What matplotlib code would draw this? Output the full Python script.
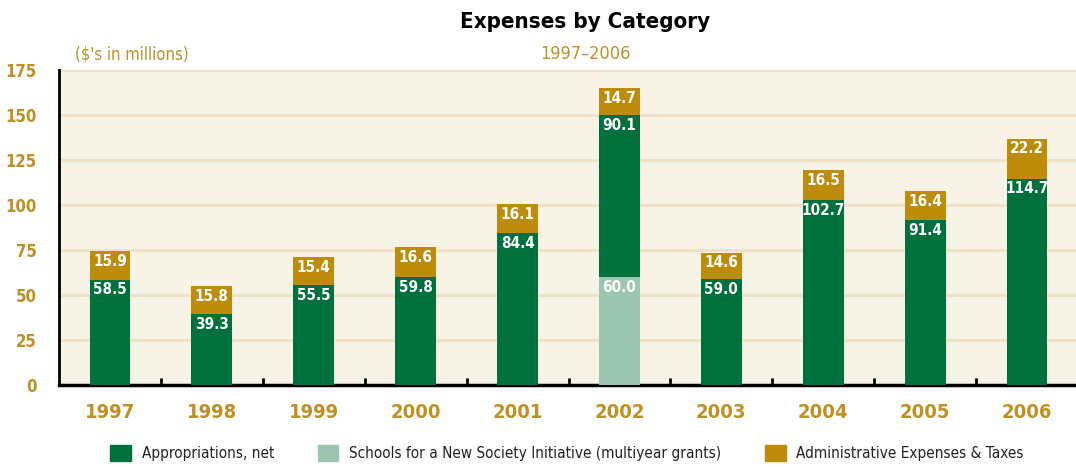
import numpy as np
import matplotlib.pyplot as plt
from matplotlib.patches import Patch

plt.rcParams['font.family'] = ['DejaVu Sans']
plt.rcParams['font.stretch'] = 'condensed'

years = ['1997', '1998', '1999', '2000', '2001', '2002', '2003', '2004', '2005', '2006']
appropriations = [58.5, 39.3, 55.5, 59.8, 84.4, 90.1, 59.0, 102.7, 91.4, 114.7]
schools = [0, 0, 0, 0, 0, 60.0, 0, 0, 0, 0]
admin = [15.9, 15.8, 15.4, 16.6, 16.1, 14.7, 14.6, 16.5, 16.4, 22.2]

green = '#00703c'
light = '#9cc6b0'
gold = '#bd8c0a'
gold_txt = '#bf9024'
bg = '#f7f3e6'
grid = '#efe2c6'

fig = plt.figure(figsize=(10.76, 4.67), dpi=100)
ax = fig.add_axes([59 / 1076, 82 / 467, 1017 / 1076, 315 / 467])
ax.set_facecolor(bg)

x = np.arange(len(years))
w = 0.4
sch = np.array(schools)
app = np.array(appropriations)
adm = np.array(admin)

ax.bar(x, sch, w, color=light, zorder=3)
ax.bar(x, app, w, bottom=sch, color=green, zorder=3)
ax.bar(x, adm, w, bottom=sch + app, color=gold, zorder=3)

# value labels just under each segment top
for i in range(len(x)):
    segs = [(sch[i], sch[i]), (app[i], sch[i] + app[i]), (adm[i], sch[i] + app[i] + adm[i])]
    for val, top in segs:
        if val > 0:
            ax.annotate(f'{val:.1f}', (x[i], top), xytext=(0, -2), textcoords='offset points',
                        ha='center', va='top', color='white', fontsize=11, fontweight='bold', zorder=4)

ax.set_xlim(-0.5, 9.48)
ax.set_ylim(0, 175)
ax.set_yticks(range(0, 176, 25))
ax.yaxis.grid(True, color=grid, linewidth=2.2, zorder=0)
ax.set_axisbelow(True)

ax.set_xticks(x)
ax.set_xticklabels(years)
ax.set_xticks(x[:-1] + 0.5, minor=True)
ax.tick_params(axis='x', which='major', length=0, pad=13, labelsize=14.5, labelcolor=gold_txt)
ax.tick_params(axis='x', which='minor', direction='in', length=5, width=2, color='black')
ax.tick_params(axis='y', length=0, pad=16, labelsize=12, labelcolor=gold_txt)
for lab in ax.get_xticklabels() + ax.get_yticklabels():
    lab.set_fontweight('bold')

for s in ['top', 'right']:
    ax.spines[s].set_visible(False)
ax.spines['left'].set_linewidth(2)
ax.spines['bottom'].set_linewidth(2.5)

fig.text(585 / 1076, 1 - 22 / 467, 'Expenses by Category', ha='center', va='center',
         fontsize=16, fontweight='bold', color='black')
fig.text(585 / 1076, 1 - 54 / 467, '1997\u20132006', ha='center', va='center',
         fontsize=13, color=gold_txt)
fig.text(75 / 1076, 1 - 55 / 467, "($'s in millions)", ha='left', va='center',
         fontsize=12, color=gold_txt)

handles = [Patch(color=green), Patch(color=light), Patch(color=gold)]
labels = ['Appropriations, net', 'Schools for a New Society Initiative (multiyear grants)',
          'Administrative Expenses & Taxes']
fig.legend(handles, labels, loc='center left', bbox_to_anchor=(110 / 1076, 1 - 453 / 467),
           ncol=3, frameon=False, fontsize=11, borderpad=0, borderaxespad=0,
           handlelength=1.37, handleheight=1.3, handletextpad=0.7, columnspacing=2.85,
           labelcolor='#222222')

fig.savefig('out.png', dpi=100, facecolor='white')
